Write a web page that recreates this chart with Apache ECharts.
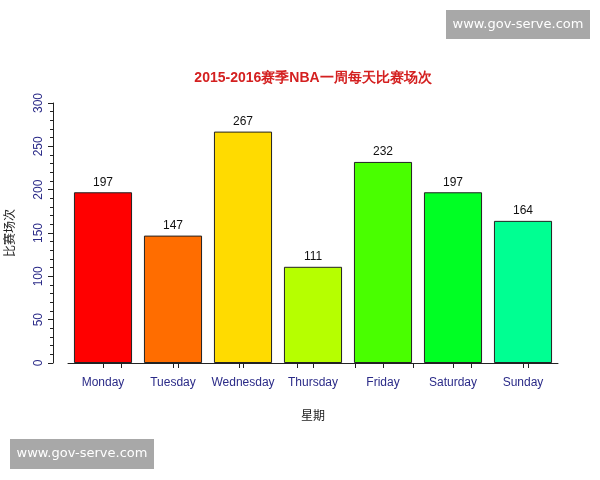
<!DOCTYPE html>
<html>
<head>
<meta charset="utf-8">
<script src="https://cdn.jsdelivr.net/npm/echarts@6/dist/echarts.min.js"></script>
<style>
html, body { margin: 0; padding: 0; background: #fff; }
#main { width: 600px; height: 480px; }
</style>
</head>
<body>
<div id="main"></div>
<script>
// 数据
const days = ['Monday', 'Tuesday', 'Wednesday', 'Thursday', 'Friday', 'Saturday', 'Sunday'];
const games = [197, 147, 267, 111, 232, 197, 164];
const barColors = ['#FF0000', '#FF6D00', '#FFDB00', '#B6FF00', '#49FF00', '#00FF24', '#00FF92'];
const extraTicks = [0.76, 1.57, 2.44, 3.27, 4.1, 4.93, 5.76, 6.57];

const axisBlue = '#2B2B88';
const font = '"Liberation Sans", Arial, sans-serif';

const chart = echarts.init(document.getElementById('main'));

chart.setOption({
    animation: false,
    title: {
        text: '2015-2016赛季NBA一周每天比赛场次',
        left: 308,
        top: 66,
        textAlign: 'center',
        textStyle: { color: '#D42020', fontSize: 14, fontWeight: 'bold', fontFamily: font }
    },
    grid: { left: 68, right: 42, top: 103, bottom: 117, containLabel: false, outerBoundsMode: 'none' },
    xAxis: [
        {
            type: 'category',
            data: days,
            name: '星期',
            nameLocation: 'middle',
            nameGap: 46,
            nameTextStyle: { color: '#222', fontSize: 12, fontFamily: 'Noto Sans CJK SC' },
            axisLine: { show: true, lineStyle: { color: '#222', width: 1 } },
            axisTick: { show: true, interval: 0, alignWithLabel: true, length: 5, lineStyle: { color: '#222' } },
            axisLabel: { interval: 0, color: axisBlue, fontSize: 12, fontFamily: font, margin: 14 }
        },
        {
            type: 'value',
            position: 'bottom',
            min: 0,
            max: 7,
            axisLine: { show: false, onZero: false },
            axisLabel: { show: false },
            splitLine: { show: false },
            axisTick: { show: true, length: 5, customValues: extraTicks, lineStyle: { color: '#222' } }
        }
    ],
    yAxis: {
        type: 'value',
        min: 0,
        max: 300,
        interval: 50,
        offset: 15,
        name: '比赛场次',
        nameLocation: 'middle',
        nameGap: 38,
        nameRotate: 90,
        nameTextStyle: { color: '#222', fontSize: 12, fontFamily: 'Noto Sans CJK SC' },
        axisLine: { show: true, onZero: false, lineStyle: { color: '#222', width: 1 } },
        axisTick: { show: true, length: 5, lineStyle: { color: '#222' } },
        minorTick: { show: true, splitNumber: 5, length: 3, lineStyle: { color: '#222' } },
        splitLine: { show: false },
        axisLabel: { color: axisBlue, fontSize: 12, fontFamily: font, rotate: 90, margin: 8 }
    },
    series: [
        {
            type: 'bar',
            xAxisIndex: 0,
            barCategoryGap: '17%',
            data: games.map((v, i) => ({ value: v, itemStyle: { color: barColors[i] } })),
            itemStyle: { borderColor: '#222', borderWidth: 1 },
            label: {
                show: true,
                position: 'top',
                distance: 4,
                color: '#111',
                fontSize: 12,
                fontFamily: font
            }
        }
    ],
    graphic: [
        {
            type: 'group',
            left: 446,
            top: 10,
            children: [
                { type: 'rect', shape: { x: 0, y: 0, width: 144, height: 29 }, style: { fill: '#A8A8A8' } },
                { type: 'text', style: { x: 72, y: 15, text: 'www.gov-serve.com', fill: '#fff', fontSize: 13, fontFamily: 'DejaVu Sans', align: 'center', verticalAlign: 'middle' } }
            ]
        },
        {
            type: 'group',
            left: 10,
            top: 439,
            children: [
                { type: 'rect', shape: { x: 0, y: 0, width: 144, height: 30 }, style: { fill: '#A8A8A8' } },
                { type: 'text', style: { x: 72, y: 15, text: 'www.gov-serve.com', fill: '#fff', fontSize: 13, fontFamily: 'DejaVu Sans', align: 'center', verticalAlign: 'middle' } }
            ]
        }
    ]
});
</script>
</body>
</html>
